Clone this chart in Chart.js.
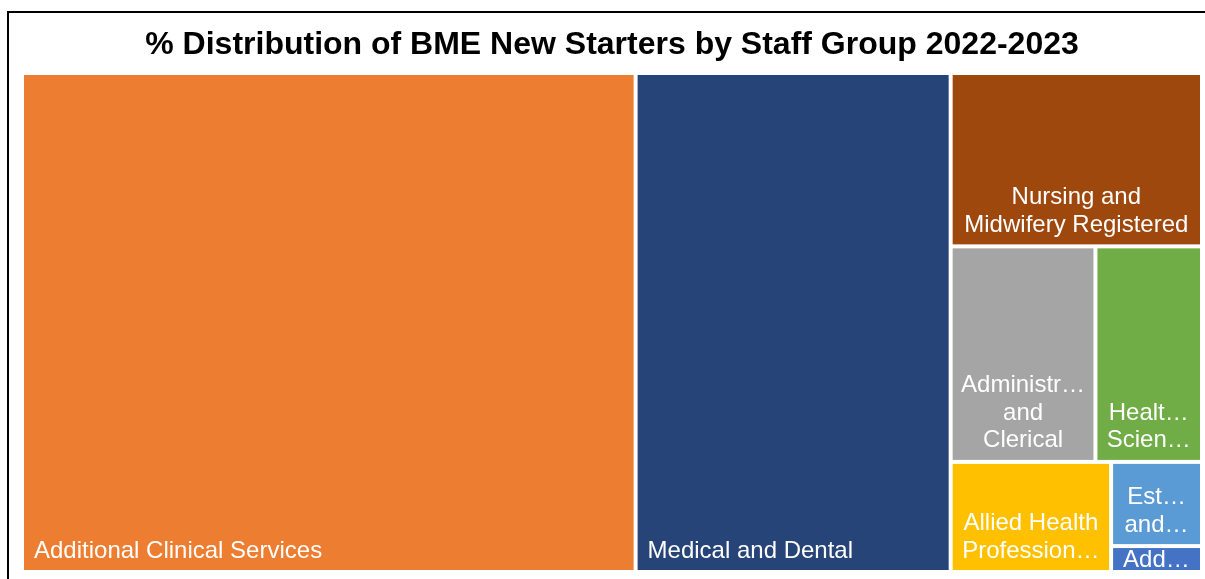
<!DOCTYPE html>
<html>
<head>
<meta charset="utf-8">
<title>BME New Starters by Staff Group</title>
<script src="https://cdn.jsdelivr.net/npm/chart.js@4.4.0/dist/chart.umd.min.js"></script>
<style>
    html, body { margin: 0; padding: 0; background: #fff; overflow: hidden; }
    #frame { position: absolute; left: 7px; top: 11px; border: 2px solid #000; }
    canvas { display: block; }
</style>
</head>
<body>
<div id="frame"><canvas id="staffChart" width="1220" height="590"></canvas></div>
<script>
// Staff groups and their share of BME new starters (%)
const staffGroups = [
    'Additional Clinical Services',
    'Medical and Dental',
    'Nursing and Midwifery Registered',
    'Administrative and Clerical',
    'Healthcare Scientists',
    'Allied Health Professionals',
    'Estates and Ancillary',
    'Additional Professional Scientific and Technical'
];
const shares = [52.0, 26.7, 7.4, 5.3, 3.9, 3.0, 1.3, 0.4];
const groupColours = ['#ED7D31', '#264478', '#9E480E', '#A5A5A5', '#70AD47', '#FFC000', '#5B9BD5', '#4472C4'];

// Squarified treemap layout, in units of the given width/height
function squarify(values, w, h) {
    const total = values.reduce((a, b) => a + b, 0);
    const areas = values.map(v => v / total * w * h);
    const sumOf = row => row.reduce((a, b) => a + b, 0);
    const worst = (row, side) => {
        const s = sumOf(row);
        const mx = Math.max(...row), mn = Math.min(...row);
        return Math.max(side * side * mx / (s * s), (s * s) / (side * side * mn));
    };
    const rects = [];
    const box = { x: 0, y: 0, w: w, h: h };
    let i = 0;
    while (i < areas.length) {
        const side = Math.min(box.w, box.h);
        const row = [areas[i]];
        let j = i + 1;
        while (j < areas.length && worst(row.concat(areas[j]), side) <= worst(row, side)) {
            row.push(areas[j]);
            j++;
        }
        const s = sumOf(row);
        if (box.w >= box.h) {
            const colW = s / box.h;
            let y = box.y;
            row.forEach(a => {
                rects.push({ x: box.x, y: y, w: colW, h: a / colW });
                y += a / colW;
            });
            box.x += colW;
            box.w -= colW;
        } else {
            const rowH = s / box.w;
            let x = box.x;
            row.forEach(a => {
                rects.push({ x: x, y: box.y, w: a / rowH, h: rowH });
                x += a / rowH;
            });
            box.y += rowH;
            box.h -= rowH;
        }
        i = j;
    }
    return rects;
}

// Cut a string down with an ellipsis until it fits
function clipText(ctx, text, maxW) {
    if (ctx.measureText(text).width <= maxW) return text;
    let t = text;
    while (t.length > 1 && ctx.measureText(t + '\u2026').width > maxW) {
        t = t.slice(0, -1);
    }
    return t.trimEnd() + '\u2026';
}

// Word wrap, last allowed line takes whatever is left
function wrapLabel(ctx, text, maxW, maxLines) {
    const words = text.split(' ');
    const lines = [];
    let i = 0;
    while (i < words.length) {
        if (lines.length === maxLines - 1) {
            lines.push(clipText(ctx, words.slice(i).join(' '), maxW));
            break;
        }
        let line = words[i];
        i++;
        while (i < words.length && ctx.measureText(line + ' ' + words[i]).width <= maxW) {
            line += ' ' + words[i];
            i++;
        }
        lines.push(clipText(ctx, line, maxW));
    }
    return lines;
}

const treemapPlugin = {
    id: 'treemap',
    afterDatasetsDraw(chart, args, opts) {
        const ctx = chart.ctx;
        const area = chart.chartArea;
        const xs = chart.scales.x, ys = chart.scales.y;
        const rects = squarify(opts.values, area.width, area.height);
        const gap = 2, pad = 10, wrapPad = 8.3, lineH = 27.6;

        rects.forEach((r, k) => {
            // layout units -> axis values (0..100) -> pixels
            const l = xs.getPixelForValue(r.x / area.width * 100) + gap;
            const rr = xs.getPixelForValue((r.x + r.w) / area.width * 100) - gap;
            const t = ys.getPixelForValue(r.y / area.height * 100) + gap;
            const b = ys.getPixelForValue((r.y + r.h) / area.height * 100) - gap;
            const w = rr - l, h = b - t;

            ctx.save();
            ctx.fillStyle = opts.colors[k];
            ctx.fillRect(l, t, w, h);

            ctx.beginPath();
            ctx.rect(l, t, w, h);
            ctx.clip();
            ctx.font = '24px "Liberation Sans", Arial, sans-serif';
            ctx.fillStyle = '#fff';
            ctx.textBaseline = 'alphabetic';
            const maxLines = Math.max(1, Math.floor((h - 10) / lineH));
            const lines = wrapLabel(ctx, opts.labels[k], w - 2 * wrapPad, maxLines);
            let base = b - 12.5 - (lines.length - 1) * lineH;
            if (base < t + 19) base = t + 19;
            lines.forEach((line, n) => {
                if (lines.length === 1) {
                    ctx.textAlign = 'left';
                    ctx.fillText(line, l + pad, base);
                } else {
                    ctx.textAlign = 'center';
                    ctx.fillText(line, l + w / 2, base + n * lineH);
                }
            });
            ctx.restore();
        });
    }
};

new Chart(document.getElementById('staffChart'), {
    type: 'scatter',
    data: { datasets: [] },
    options: {
        responsive: false,
        animation: false,
        events: [],
        layout: { padding: { left: 13, right: 27, top: 0, bottom: 31 } },
        scales: {
            x: { type: 'linear', min: 0, max: 100, display: false },
            y: { type: 'linear', min: 0, max: 100, reverse: true, display: false }
        },
        plugins: {
            legend: { display: false },
            tooltip: { enabled: false },
            title: {
                display: true,
                text: '% Distribution of BME New Starters by Staff Group 2022-2023',
                color: '#000',
                font: { family: '"Liberation Sans", Arial, sans-serif', size: 32, weight: 'bold' },
                padding: { top: 12.5, bottom: 9.1 }
            },
            treemap: { labels: staffGroups, values: shares, colors: groupColours }
        }
    },
    plugins: [treemapPlugin]
});
</script>
</body>
</html>
